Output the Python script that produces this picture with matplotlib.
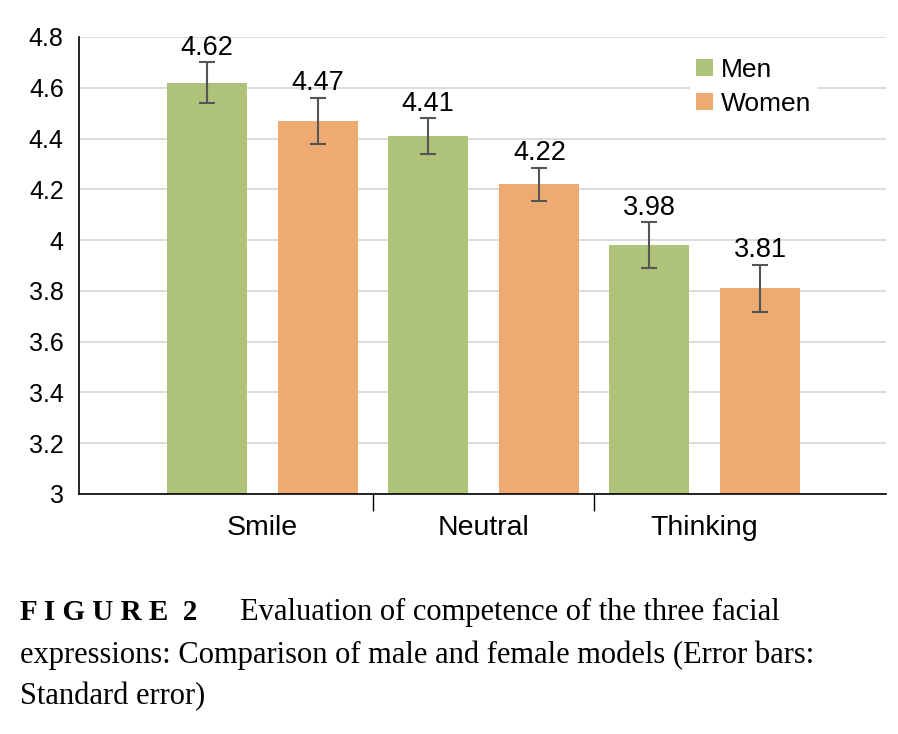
import numpy as np
import matplotlib.pyplot as plt

# data
categories = ['Smile', 'Neutral', 'Thinking']
men = [4.62, 4.41, 3.98]
women = [4.47, 4.22, 3.81]
men_err = [0.08, 0.07, 0.09]
women_err = [0.09, 0.065, 0.093]
yticks = [3, 3.2, 3.4, 3.6, 3.8, 4, 4.2, 4.4, 4.6, 4.8]
ytick_labels = ['3', '3.2', '3.4', '3.6', '3.8', '4', '4.2', '4.4', '4.6', '4.8']

green = '#AEC279'
orange = '#EDAB72'

plt.rcParams['font.family'] = ['Liberation Sans', 'DejaVu Sans']

fig = plt.figure(figsize=(8.98, 7.34), dpi=100)
ax = fig.add_axes([0.088, 0.327, 0.8986, 0.6226])

x = np.arange(len(categories))
w = 0.362
off = 0.252
err_kw = dict(ecolor='#555555', elinewidth=1.5, capsize=6, capthick=1.5)
b1 = ax.bar(x - off, men, w, yerr=men_err, color=green, label='Men', error_kw=err_kw, zorder=2)
b2 = ax.bar(x + off, women, w, yerr=women_err, color=orange, label='Women', error_kw=err_kw, zorder=2)

# value labels above error bars
for xs, vals, errs in [(x - off, men, men_err), (x + off, women, women_err)]:
    for xi, v, e in zip(xs, vals, errs):
        ax.text(xi, v + e + 0.006, f'{v:.2f}', ha='center', va='bottom', fontsize=19.5)

ax.set_ylim(3, 4.8)
ax.set_xlim(-0.83, 2.82)
ax.set_yticks(yticks)
ax.set_yticklabels(ytick_labels, fontsize=18)
ax.tick_params(axis='y', length=0, pad=11)
ax.yaxis.grid(True, color='#D9D9D9', linewidth=1.3, zorder=0)
ax.set_axisbelow(True)

# boundary ticks, labels at category centres
ax.set_xticks([0.5, 1.5])
ax.set_xticklabels(['', ''])
ax.tick_params(axis='x', which='major', length=12, width=1, color='black', direction='out')
ax.set_xticks(x, minor=True)
ax.set_xticklabels(categories, minor=True, fontsize=20.5)
ax.tick_params(axis='x', which='minor', length=0, pad=15)

for s in ['top', 'right']:
    ax.spines[s].set_visible(False)
ax.spines['left'].set_linewidth(1.2)
ax.spines['bottom'].set_linewidth(1.2)

leg = ax.legend(loc='upper right', bbox_to_anchor=(0.93, 0.995), fontsize=19, frameon=True,
                handlelength=0.65, handleheight=0.65, handletextpad=0.3, borderpad=0.2,
                labelspacing=0.38)
leg.get_frame().set_edgecolor('white')
leg.get_frame().set_alpha(1)

# caption
serif = ['Liberation Serif', 'DejaVu Serif']
fig.text(20 / 898, 1 - 612 / 734, 'F I G U R E  2', family=serif, fontsize=21,
         fontweight='bold', va='center', ha='left')
fig.text(240 / 898, 1 - 612 / 734, 'Evaluation of competence of the three facial',
         family=serif, fontsize=22, va='center', ha='left')
fig.text(20 / 898, 1 - 655 / 734, 'expressions: Comparison of male and female models (Error bars:',
         family=serif, fontsize=22, va='center', ha='left')
fig.text(20 / 898, 1 - 697 / 734, 'Standard error)',
         family=serif, fontsize=22, va='center', ha='left')

fig.savefig('out.png', dpi=100)
